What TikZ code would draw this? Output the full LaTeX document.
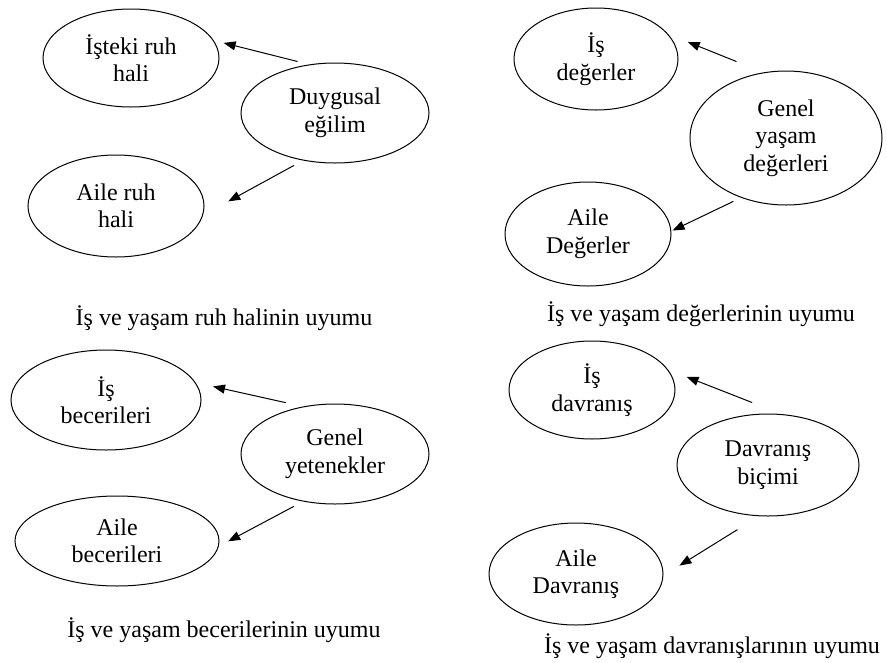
\documentclass[tikz,border=0pt]{standalone}
\usepackage{fontspec}
\setmainfont{Liberation Serif}
\usetikzlibrary{arrows.meta,shapes.geometric}
\begin{document}
\begin{tikzpicture}[x=1pt,y=-1pt,
  ell/.style={ellipse,draw,line width=1pt,inner sep=0pt,align=center,font=\fontsize{24}{27.5}\selectfont},
  arr/.style={-{Triangle[length=12pt,width=9pt]},line width=1pt},
  captext/.style={font=\fontsize{24}{27.5}\selectfont,anchor=base,inner sep=0pt}]
\useasboundingbox (0,0) rectangle (887,662);
% Q1
\node[ell,minimum width=176pt,minimum height=98pt] (ist) at (131,58) {İşteki ruh\\hali};
\node[ell,minimum width=188pt,minimum height=100pt] (duy) at (335,113) {Duygusal\\eğilim};
\node[ell,minimum width=176pt,minimum height=102pt] (aruh) at (116,206) {Aile ruh\\hali};
% Q2
\node[ell,minimum width=164pt,minimum height=102pt] (isd) at (596,59) {İş\\değerler};
\node[ell,minimum width=192pt,minimum height=134pt] (gyd) at (786,138) {Genel\\yaşam\\değerleri};
\node[ell,minimum width=166pt,minimum height=104pt] (aded) at (588,234) {Aile\\Değerler};
% Q3
\node[ell,minimum width=190pt,minimum height=100pt] (isb) at (106,400) {İş\\becerileri};
\node[ell,minimum width=188pt,minimum height=100pt] (gyt) at (335,454) {Genel\\yetenekler};
\node[ell,minimum width=204pt,minimum height=90pt] (abec) at (117,541) {Aile\\becerileri};
% Q4
\node[ell,minimum width=166pt,minimum height=98pt] (isdv) at (592,390) {İş\\davranış};
\node[ell,minimum width=182pt,minimum height=102pt] (dvb) at (768,465) {Davranış\\biçimi};
\node[ell,minimum width=174pt,minimum height=102pt] (adv) at (576,574) {Aile\\Davranış};
% arrows
\draw[arr,shorten <=12pt,shorten >=10.2pt] (duy.118.8) -- (ist.12);
\draw[arr,shorten <=10.2pt,shorten >=28.7pt] (duy.236.7) -- (aruh.354.3);
\draw[arr,shorten <=29pt,shorten >=21pt] (gyd.109.6) -- (isd.19.2);
\draw[arr,shorten <=8.5pt,shorten >=1.3pt] (gyd.233.3) -- (aded.2.4);
\draw[arr,shorten <=17.6pt,shorten >=17.8pt] (gyt.124) -- (isb.11.5);
\draw[arr,shorten <=10.3pt,shorten >=10.6pt] (gyt.236.8) -- (abec.357.2);
\draw[arr,shorten <=31.7pt,shorten >=19.8pt] (dvb.75) -- (isdv.15);
\draw[arr,shorten <=25.4pt,shorten >=18.8pt] (dvb.260.7) -- (adv.359.5);
% captions
\node[captext] (c1) at (224,325) {İş ve yaşam ruh halinin uyumu};
\node[captext] (c2) at (701,321) {İş ve yaşam değerlerinin uyumu};
\node[captext] (c3) at (224,637) {İş ve yaşam becerilerinin uyumu};
\node[captext] (c4) at (712,653) {İş ve yaşam davranışlarının uyumu};
\end{tikzpicture}
\end{document}
